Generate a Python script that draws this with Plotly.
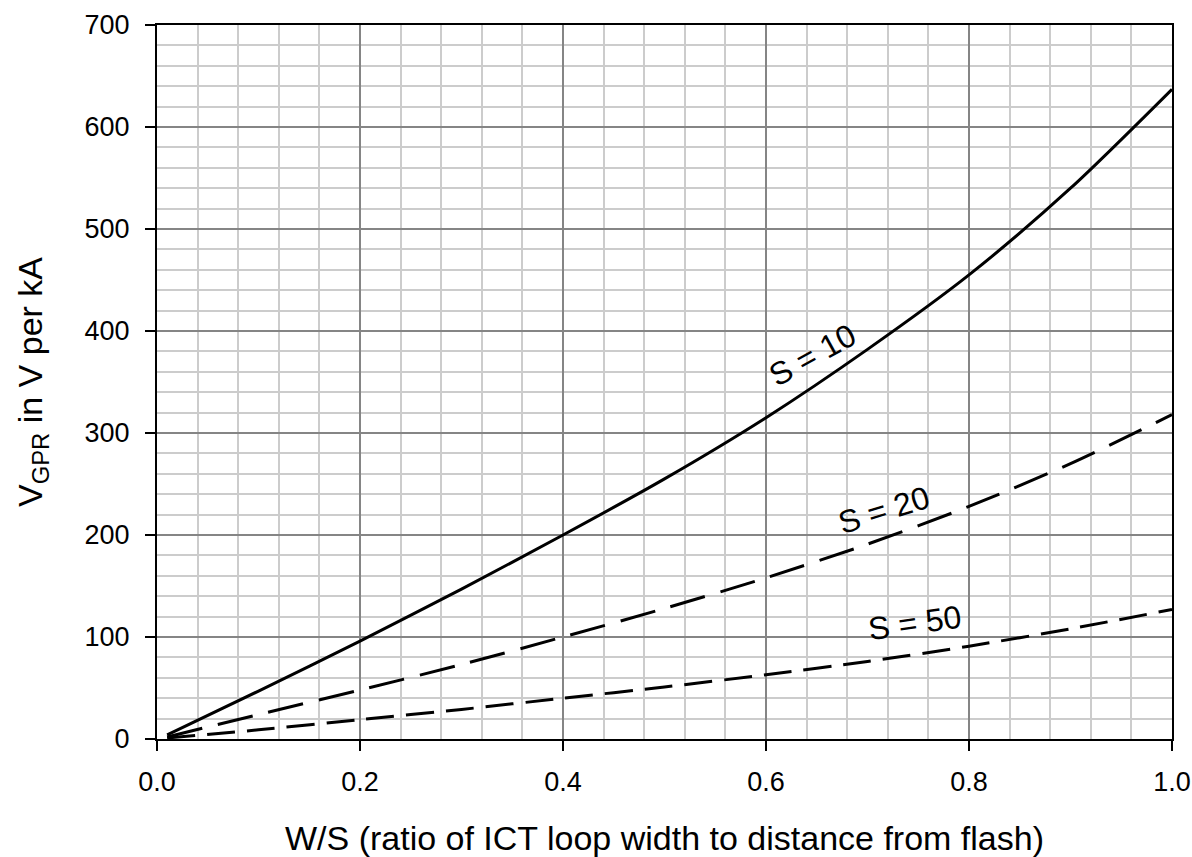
import plotly.graph_objects as go

ws = [0.01, 0.1, 0.2, 0.3, 0.4, 0.5, 0.6, 0.7, 0.8, 0.9, 1.0]
v_s10 = [4, 47, 96, 147, 200, 255, 315, 382, 455, 540, 637]
v_s20 = [2, 24, 48, 73, 100, 128, 158, 191, 228, 270, 318]
v_s50 = [1, 9, 19, 29, 40, 51, 63, 76, 91, 108, 127]

x_ticks = [0.0, 0.2, 0.4, 0.6, 0.8, 1.0]
y_ticks = [0, 100, 200, 300, 400, 500, 600, 700]

labels = ["S = 10", "S = 20", "S = 50"]
label_x = [0.646, 0.716, 0.746]
label_y = [376, 225, 114]
label_angle = [-29, -17, -8]

FONT = "Liberation Sans, Arial, sans-serif"

fig = go.Figure()
fig.add_trace(go.Scatter(x=ws, y=v_s10, mode="lines", line=dict(color="black", width=3, shape="spline", smoothing=0.8), showlegend=False))
fig.add_trace(go.Scatter(x=ws, y=v_s20, mode="lines", line=dict(color="black", width=3, dash="36px,16px", shape="spline", smoothing=0.8), showlegend=False))
fig.add_trace(go.Scatter(x=ws, y=v_s50, mode="lines", line=dict(color="black", width=3, dash="28px,12px", shape="spline", smoothing=0.8), showlegend=False))

for t, x, y, a in zip(labels, label_x, label_y, label_angle):
    fig.add_annotation(x=x, y=y, xref="x", yref="y", text=t, textangle=a, showarrow=False,
                       font=dict(family=FONT, size=32, color="black"))

fig.add_annotation(x=0.5, y=0, xref="paper", yref="paper", yshift=-99, showarrow=False,
                   text="W/S (ratio of ICT loop width to distance from flash)",
                   font=dict(family=FONT, size=34, color="black"), xanchor="center", yanchor="middle")
fig.add_annotation(x=0, y=0.5, xref="paper", yref="paper", xshift=-125, showarrow=False,
                   text="V<sub>GPR</sub> in V per kA", textangle=-90,
                   font=dict(family=FONT, size=34, color="black"), xanchor="center", yanchor="middle")

fig.update_xaxes(range=[0, 1.0], tickvals=x_ticks, ticktext=[f"{v:.1f}" for v in x_ticks],
                 showgrid=True, gridcolor="#858585", gridwidth=1.5,
                 minor=dict(dtick=0.04, tick0=0, showgrid=True, gridcolor="#cccccc", gridwidth=2),
                 showline=True, linecolor="black", linewidth=2, mirror=True,
                 ticks="outside", ticklen=10, tickwidth=2, tickcolor="black",
                 ticklabelstandoff=8, automargin=False,
                 tickfont=dict(family=FONT, size=27, color="black"), zeroline=False)
fig.update_yaxes(range=[0, 700], tickvals=y_ticks,
                 showgrid=True, gridcolor="#858585", gridwidth=1.5,
                 minor=dict(dtick=20, tick0=0, showgrid=True, gridcolor="#cccccc", gridwidth=2),
                 showline=True, linecolor="black", linewidth=2, mirror=True,
                 ticks="outside", ticklen=10, tickwidth=2, tickcolor="black",
                 ticklabelstandoff=10, automargin=False,
                 tickfont=dict(family=FONT, size=27, color="black"), zeroline=False)

fig.update_layout(width=1192, height=857, margin=dict(l=157, r=20, t=25, b=118, autoexpand=False),
                  plot_bgcolor="white", paper_bgcolor="white", showlegend=False)

fig.write_html("out.html")
